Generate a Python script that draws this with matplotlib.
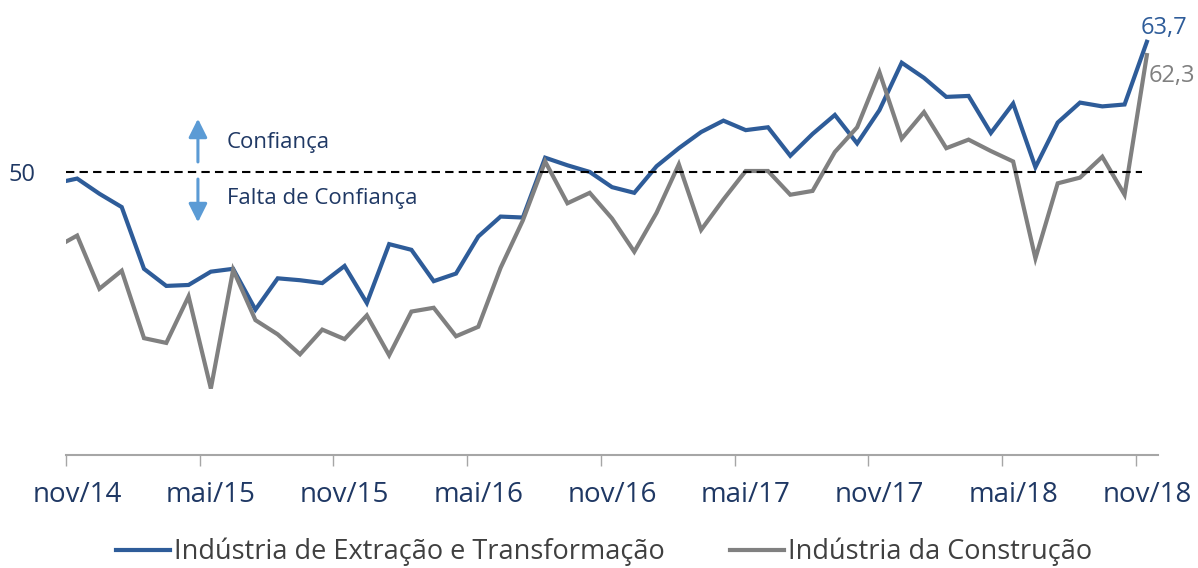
import numpy as np
import matplotlib.pyplot as plt

# monthly index, out/14 (partly visible at left edge) ... nov/18
meses = ['out/14'] + [f'{m}/{a}' for a in range(14, 19)
                      for m in ['jan', 'fev', 'mar', 'abr', 'mai', 'jun',
                                'jul', 'ago', 'set', 'out', 'nov', 'dez']][10:59]

extracao = [48.8, 49.3, 47.7, 46.3, 39.8, 38.0, 38.1, 39.5, 39.8, 35.5, 38.8,
            38.6, 38.3, 40.1, 36.2, 42.4, 41.8, 38.5, 39.3, 43.2, 45.3, 45.2,
            51.5, 50.7, 50.0, 48.4, 47.8, 50.6, 52.5, 54.2, 55.4, 54.4, 54.7,
            51.7, 54.0, 56.0, 53.0, 56.5, 61.5, 59.9, 57.9, 58.0, 54.1, 57.2,
            50.5, 55.2, 57.3, 56.9, 57.1, 63.7]

construcao = [42.0, 43.3, 37.7, 39.6, 32.5, 32.0, 36.9, 27.2, 39.7, 34.4, 32.9,
              30.8, 33.4, 32.4, 34.9, 30.7, 35.3, 35.7, 32.7, 33.7, 39.9, 44.9,
              51.1, 46.7, 47.8, 45.1, 41.6, 45.7, 50.8, 43.9, 47.1, 50.1, 50.1,
              47.6, 48.0, 52.1, 54.7, 60.5, 53.5, 56.3, 52.5, 53.4, 52.2, 51.1,
              40.9, 48.8, 49.4, 51.6, 47.6, 62.3]

rotulos = ['nov/14', 'mai/15', 'nov/15', 'mai/16', 'nov/16',
           'mai/17', 'nov/17', 'mai/18', 'nov/18']

azul = '#2E5C99'
cinza = '#808080'
navy = '#1F3864'
seta = '#5B9BD5'

plt.rcParams['font.family'] = ['Open Sans', 'DejaVu Sans']

fig = plt.figure(figsize=(11.98, 5.68), dpi=100)
ax = fig.add_axes([66 / 1198, 1 - 455 / 568, 1092 / 1198, 455 / 568])

x = np.arange(len(meses)) - 1  # nov/14 at 0
ax.plot(x, extracao, color=azul, lw=3, solid_joinstyle='miter',
        label='Indústria de Extração e Transformação')
ax.plot(x, construcao, color=cinza, lw=3, solid_joinstyle='miter',
        label='Indústria da Construção')

ax.hlines(50, -0.5, 47.8, colors='black', linestyles=(0, (4, 2.5)), lw=1.5)

ax.set_xlim(-0.5, 48.5)
ax.set_ylim(20.2, 68.1)

# labels centred on the month, tick marks on the category edge
pos = [i * 6 for i in range(len(rotulos))]
ax.set_xticks(pos)
ax.set_xticklabels(rotulos, fontsize=20, color=navy)
ax.tick_params(axis='x', which='major', length=0, pad=19)
ax.set_xticks([p - 0.5 for p in pos], minor=True)
ax.tick_params(axis='x', which='minor', length=8, width=1, color='#A6A6A6')
ax.set_yticks([50])
ax.set_yticklabels(['50'], fontsize=17, color=navy)
ax.tick_params(axis='y', length=0, pad=22)

for s in ['top', 'right', 'left']:
    ax.spines[s].set_visible(False)
ax.spines['bottom'].set_color('#A6A6A6')
ax.spines['bottom'].set_linewidth(1.5)

# arrows and annotations
ax.annotate('', xy=(5.42, 55.6), xytext=(5.42, 51.05),
            arrowprops=dict(arrowstyle='-|>', color=seta, lw=2.2,
                            mutation_scale=28, shrinkA=0, shrinkB=0))
ax.annotate('', xy=(5.42, 44.7), xytext=(5.42, 49.25),
            arrowprops=dict(arrowstyle='-|>', color=seta, lw=2.2,
                            mutation_scale=28, shrinkA=0, shrinkB=0))
ax.text(6.72, 53.15, 'Confiança', fontsize=16, color=navy, va='center')
ax.text(6.72, 47.25, 'Falta de Confiança', fontsize=16, color=navy, va='center')

ax.annotate('63,7', xy=(x[-1], extracao[-1]), xytext=(12, 10),
            textcoords='offset points', ha='center', va='center',
            fontsize=17, color=azul)
ax.annotate('62,3', xy=(x[-1], construcao[-1]), xytext=(1, -15),
            textcoords='offset points', ha='left', va='center',
            fontsize=17, color=cinza)

fig.legend(loc='center', bbox_to_anchor=(0.504, 1 - 552 / 568), ncol=2,
           frameon=False, fontsize=19.5, handlelength=2.0, handletextpad=0.15,
           columnspacing=2.4, labelcolor='#404040')

fig.savefig('out.png', dpi=100)
